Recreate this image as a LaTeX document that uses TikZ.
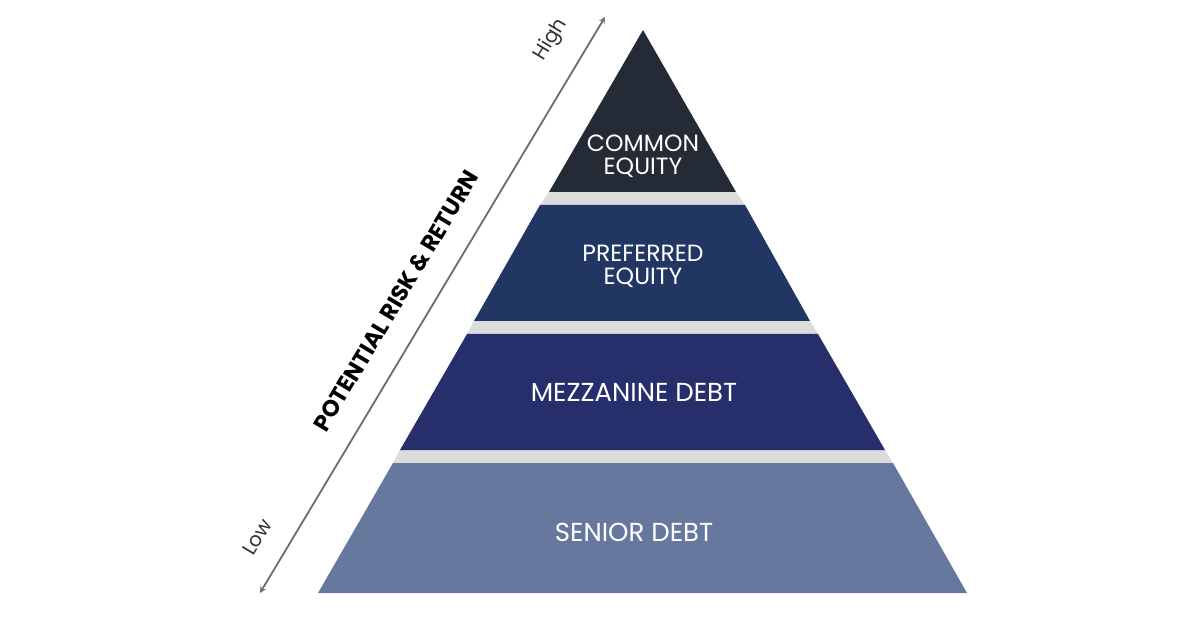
\documentclass[tikz,border=0pt]{standalone}
\usepackage{fontspec}
\setmainfont{Poppins}
\definecolor{ce}{HTML}{252B36}
\definecolor{pe}{HTML}{223663}
\definecolor{mz}{HTML}{262E6B}
\definecolor{sd}{HTML}{67789E}
\definecolor{gap}{HTML}{DCDCDC}
\begin{document}
\begin{tikzpicture}[x=1pt,y=1pt,
  lbl/.style={text=white,font=\fontsize{23.5}{28}\selectfont,align=center},
  band/.style={fill=gap}]
\useasboundingbox[fill=white] (0,0) rectangle (1200,-628);
% bands
\fill[band] (549,-192) -- (736,-192) -- (745,-205) -- (540,-205) -- cycle;
\fill[band] (474,-321) -- (810,-321) -- (818,-334) -- (467,-334) -- cycle;
\fill[band] (400,-450) -- (885,-450) -- (893,-463) -- (393,-463) -- cycle;
% layers
\fill[ce] (643,-30) -- (736,-192) -- (549,-192) -- cycle;
\fill[pe] (540,-205) -- (745,-205) -- (810,-321) -- (474,-321) -- cycle;
\fill[mz] (467,-334) -- (818,-334) -- (885,-450) -- (400,-450) -- cycle;
\fill[sd] (393,-463) -- (893,-463) -- (967,-593) -- (318,-593) -- cycle;
\node[lbl] (c) at (643,-156) {COMMON\\[-5pt]EQUITY};
\node[lbl] (p) at (643,-266) {PREFERRED\\[-5pt]EQUITY};
\node[lbl,font=\fontsize{26}{30}\selectfont] (m) at (634,-392) {MEZZANINE DEBT};
\node[lbl,font=\fontsize{26}{30}\selectfont] (s) at (634,-532) {SENIOR DEBT};
% axis
\coordinate (lo) at (260,-593);
\coordinate (hi) at (605,-17);
\draw[gray!85!black,line width=1.8pt,<->,>=stealth] (lo) -- (hi);
\node[rotate=59.1,font=\bfseries\fontsize{23}{26}\selectfont] (r) at (396,-301) {POTENTIAL RISK \& RETURN};
\node[rotate=59.1,font=\fontsize{20}{22}\selectfont,text=black!80] (h) at (551,-40) {High};
\node[rotate=59.1,font=\fontsize{20}{22}\selectfont,text=black!80] (l) at (257,-537) {Low};
\end{tikzpicture}
\end{document}
